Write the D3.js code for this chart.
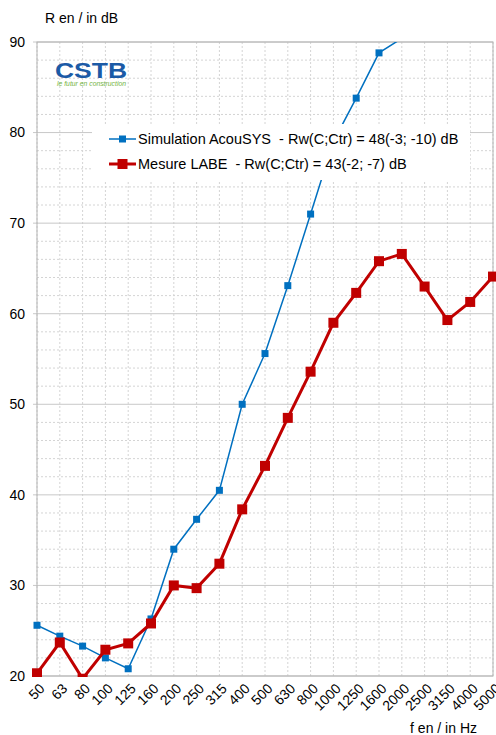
<!DOCTYPE html>
<html>
<head>
<meta charset="utf-8">
<script src="https://cdn.jsdelivr.net/npm/d3@7"></script>
<style>
  body { margin: 0; background: #fff; }
  text { font-family: "Liberation Sans", Arial, sans-serif; white-space: pre; }
</style>
</head>
<body>
<div id="chart"></div>
<script>
// --- data -----------------------------------------
var freqs = ["50", "63", "80", "100", "125", "160", "200", "250", "315", "400", "500",
             "630", "800", "1000", "1250", "1600", "2000", "2500", "3150", "4000", "5000"]

// simulation (blue) - curve leaves the chart above 2000 Hz
var simValues = [25.6, 24.4, 23.3, 22.0, 20.8, 26.3, 34.0, 37.3, 40.5, 50.0, 55.6,
                 63.1, 71.0, 79.0, 83.8, 88.8, 90.4]

// measurement (red)
var mesValues = [20.3, 23.7, 19.7, 22.9, 23.6, 25.8, 30.0, 29.7, 32.4, 38.4, 43.2,
                 48.5, 53.6, 59.0, 62.3, 65.8, 66.6, 63.0, 59.3, 61.3, 64.1]

var yTicks = [20, 30, 40, 50, 60, 70, 80, 90]
var yMinor = [22, 24, 26, 28, 32, 34, 36, 38, 42, 44, 46, 48, 52, 54, 56, 58,
              62, 64, 66, 68, 72, 74, 76, 78, 82, 84, 86, 88]

var series = [
  { label: "Simulation AcouSYS  - Rw(C;Ctr) = 48(-3; -10) dB", values: simValues,
    color: "#0070c0", width: 1.5, marker: 7 },
  { label: "Mesure LABE  - Rw(C;Ctr) = 43(-2; -7) dB", values: mesValues,
    color: "#c00000", width: 3, marker: 10 }
]

// --- layout ---------------------------------------
var width = 496, height = 735
var plotL = 37, plotR = 493, plotT = 42, plotB = 676

var svg = d3.select("#chart").append("svg")
  .attr("width", width)
  .attr("height", height)

var x = d3.scalePoint().domain(freqs).range([plotL, plotR]).padding(0)
var y = d3.scaleLinear().domain([20, 90]).range([plotB, plotT])

// grid
var grid = svg.append("g").attr("class", "grid")

grid.selectAll("line.minor")
  .data(yMinor)
  .enter().append("line")
    .attr("class", "minor")
    .attr("x1", plotL).attr("x2", plotR)
    .attr("y1", d => y(d)).attr("y2", d => y(d))
    .style("stroke", "#d4d4d4")
    .style("stroke-dasharray", "2,2")

grid.selectAll("line.vert")
  .data(freqs)
  .enter().append("line")
    .attr("class", "vert")
    .attr("x1", d => x(d)).attr("x2", d => x(d))
    .attr("y1", plotT).attr("y2", plotB)
    .style("stroke", "#d4d4d4")
    .style("stroke-dasharray", "2,2")

grid.selectAll("line.major")
  .data(yTicks)
  .enter().append("line")
    .attr("class", "major")
    .attr("x1", plotL - 4).attr("x2", plotR)
    .attr("y1", d => y(d)).attr("y2", d => y(d))
    .style("stroke", "#c8c8c8")

svg.append("rect")
  .attr("x", plotL).attr("y", plotT)
  .attr("width", plotR - plotL).attr("height", plotB - plotT)
  .style("fill", "none")
  .style("stroke", "#b3b3b3")

// y labels
svg.append("g")
  .selectAll("text")
  .data(yTicks)
  .enter().append("text")
    .attr("x", 25)
    .attr("y", d => y(d))
    .attr("dy", "0.35em")
    .attr("text-anchor", "end")
    .style("font-size", "14px")
    .text(d => d)

// x labels
svg.append("g")
  .selectAll("text")
  .data(freqs)
  .enter().append("text")
    .attr("transform", d => `translate(${x(d) + 5}, ${plotB + 10}) rotate(-45)`)
    .attr("text-anchor", "end")
    .attr("dy", "0.35em")
    .style("font-size", "14px")
    .text(d => d)

svg.append("text")
  .attr("x", 45).attr("y", 23)
  .style("font-size", "14px")
  .text("R en / in dB")

svg.append("text")
  .attr("x", 477).attr("y", 733)
  .attr("text-anchor", "end")
  .style("font-size", "14px")
  .text("f en / in Hz")

// logo
var logo = svg.append("g").attr("class", "logo")
logo.append("text")
  .attr("x", 55).attr("y", 77.5)
  .attr("textLength", 72)
  .attr("lengthAdjust", "spacingAndGlyphs")
  .style("font-size", "22px")
  .style("font-weight", "bold")
  .style("fill", "#1b5aa6")
  .text("CSTB")
logo.append("text")
  .attr("x", 57).attr("y", 85.5)
  .attr("textLength", 69)
  .attr("lengthAdjust", "spacingAndGlyphs")
  .style("font-size", "7.5px")
  .style("font-style", "italic")
  .style("fill", "#74b444")
  .text("le futur en construction")

// --- series ----------------------------------------
svg.append("clipPath").attr("id", "plot-clip")
  .append("rect")
  .attr("x", plotL - 5).attr("y", plotT)
  .attr("width", plotR - plotL + 10).attr("height", plotB - plotT + 1)

var line = d3.line()
  .x((d, i) => x(freqs[i]))
  .y(d => y(d))

var plot = svg.append("g").attr("clip-path", "url(#plot-clip)")

series.forEach(s => {
  plot.append("path")
    .datum(s.values)
    .attr("d", line)
    .style("fill", "none")
    .style("stroke", s.color)
    .style("stroke-width", s.width)

  plot.selectAll(null)
    .data(s.values)
    .enter().append("rect")
      .attr("x", (d, i) => x(freqs[i]) - s.marker / 2)
      .attr("y", d => y(d) - s.marker / 2)
      .attr("width", s.marker)
      .attr("height", s.marker)
      .style("fill", s.color)
})

// legend
var legend = svg.append("g").attr("class", "legend")
legend.append("rect")
  .attr("x", 92).attr("y", 124)
  .attr("width", 378).attr("height", 56)
  .style("fill", "#fff")

series.forEach((s, i) => {
  var ly = 139 + i * 25
  legend.append("line")
    .attr("x1", 109).attr("x2", 136)
    .attr("y1", ly).attr("y2", ly)
    .style("stroke", s.color)
    .style("stroke-width", s.width)
  legend.append("rect")
    .attr("x", 122.5 - s.marker / 2).attr("y", ly - s.marker / 2)
    .attr("width", s.marker).attr("height", s.marker)
    .style("fill", s.color)
  legend.append("text")
    .attr("x", 138).attr("y", ly)
    .attr("dy", "0.35em")
    .style("font-size", "14.5px")
    .text(s.label)
})
</script>
</body>
</html>
